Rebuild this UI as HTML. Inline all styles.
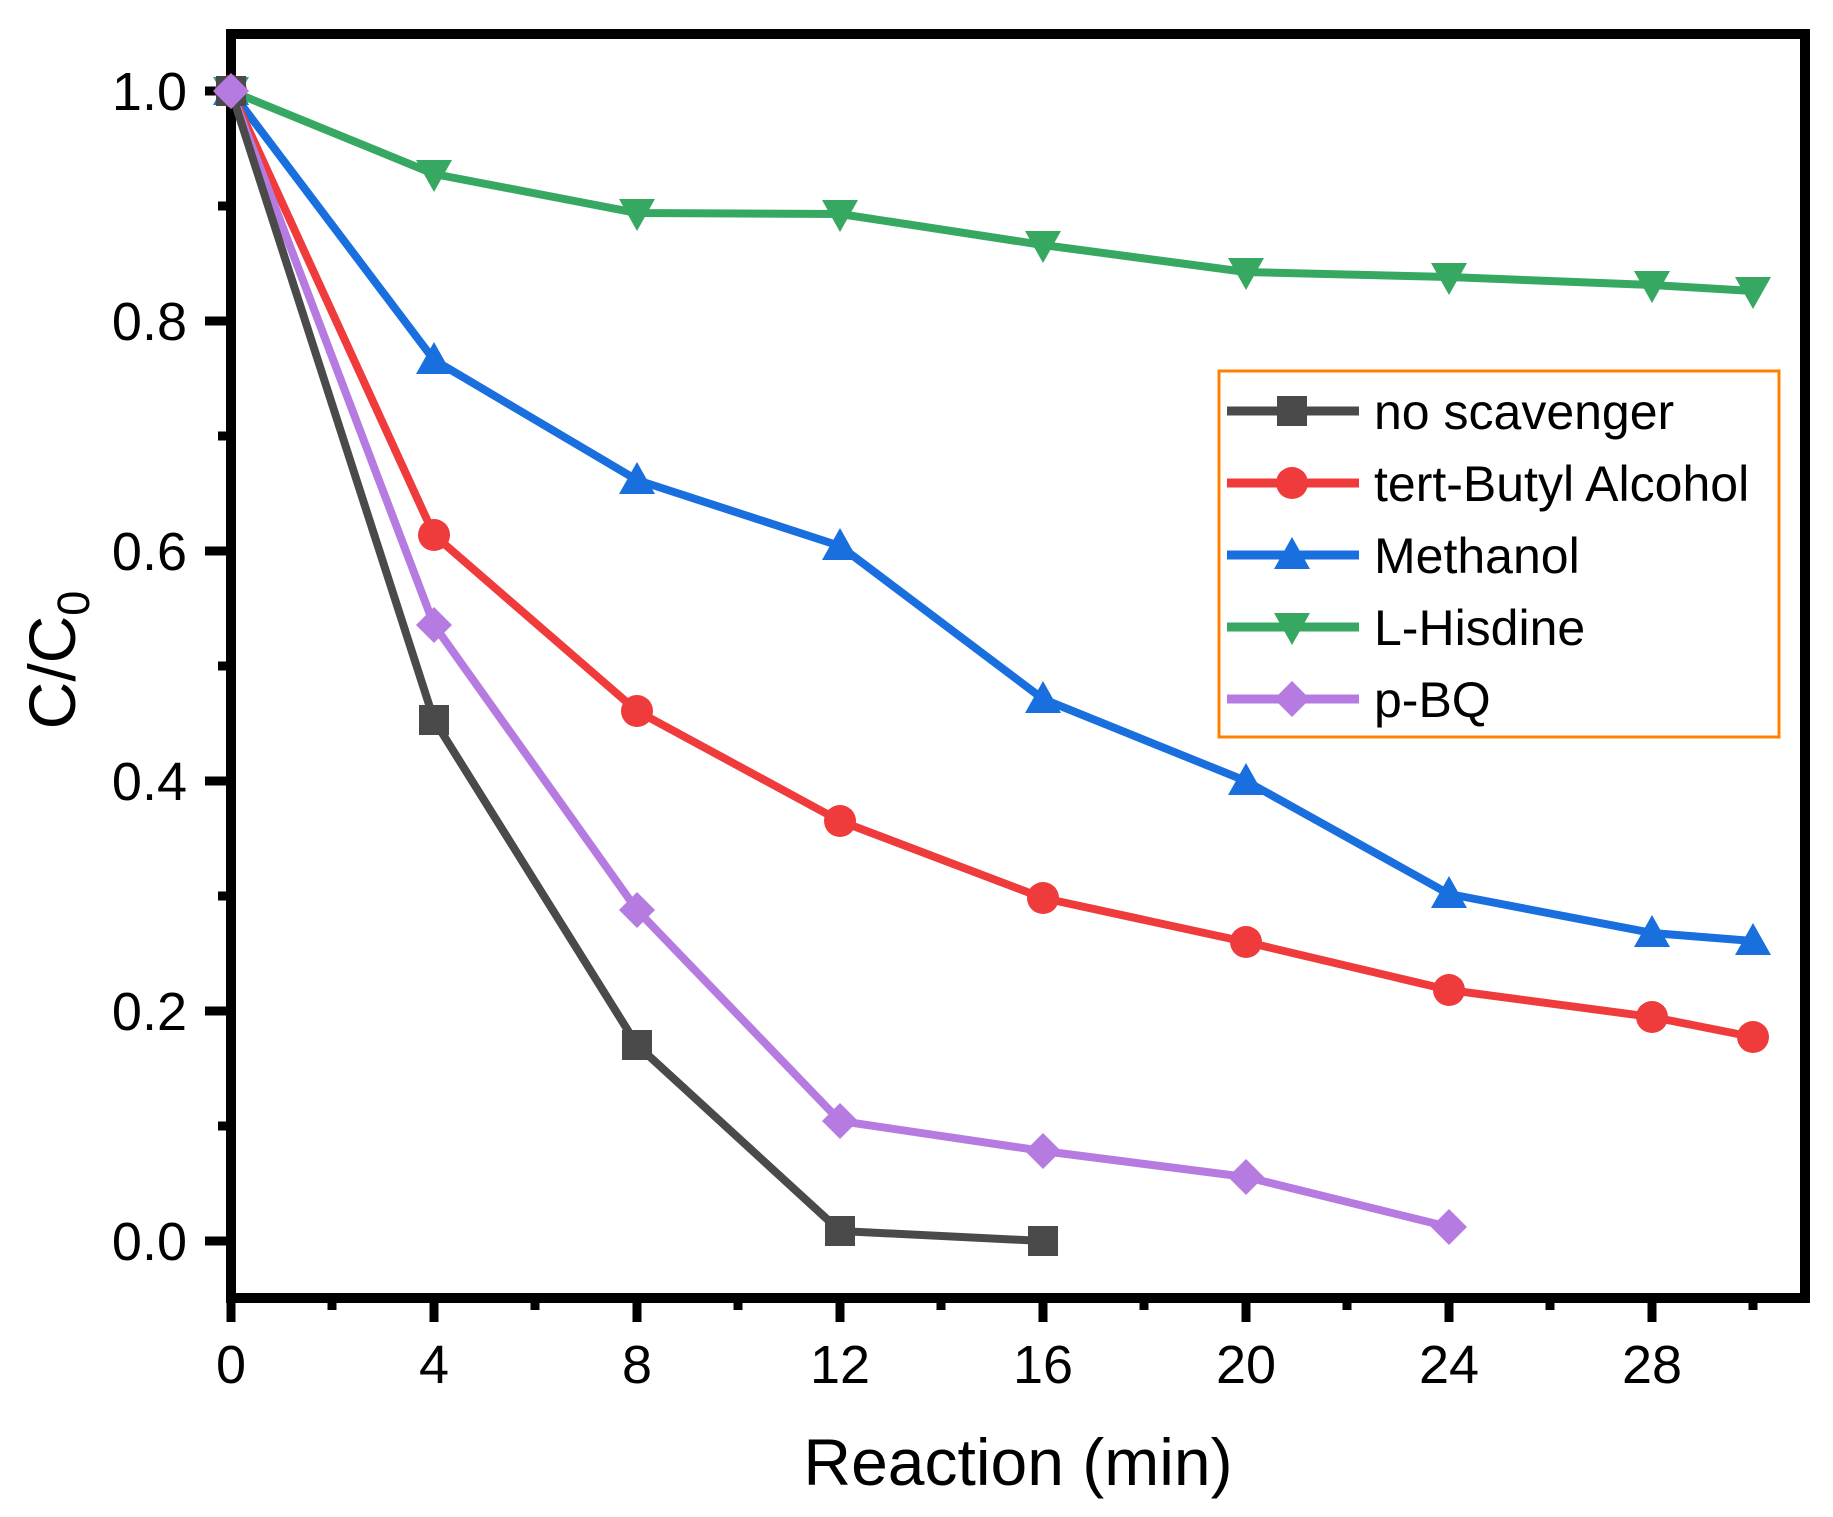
<!DOCTYPE html>
<html><head><style>body{margin:0;background:#fff}svg{display:block}</style></head><body>
<svg width="1833" height="1517" xmlns="http://www.w3.org/2000/svg" font-family="Liberation Sans, Arial, sans-serif">
<rect width="1833" height="1517" fill="#fff"/>
<g stroke="#000" stroke-width="10">
<line x1="231" y1="34" x2="231" y2="1303"/>
<line x1="226" y1="1298" x2="1810" y2="1298"/>
<line x1="226" y1="34" x2="1810" y2="34"/>
<line x1="1805" y1="29" x2="1805" y2="1303"/>
</g>
<g stroke="#000" stroke-width="9">
<line x1="205" y1="1241" x2="231" y2="1241"/><line x1="205" y1="1011" x2="231" y2="1011"/><line x1="205" y1="781" x2="231" y2="781"/><line x1="205" y1="551" x2="231" y2="551"/><line x1="205" y1="321" x2="231" y2="321"/><line x1="205" y1="91" x2="231" y2="91"/>
<line x1="218" y1="1126" x2="231" y2="1126"/><line x1="218" y1="896" x2="231" y2="896"/><line x1="218" y1="666" x2="231" y2="666"/><line x1="218" y1="436" x2="231" y2="436"/><line x1="218" y1="206" x2="231" y2="206"/>
<line x1="231" y1="1298" x2="231" y2="1322"/><line x1="434" y1="1298" x2="434" y2="1322"/><line x1="637" y1="1298" x2="637" y2="1322"/><line x1="840" y1="1298" x2="840" y2="1322"/><line x1="1043" y1="1298" x2="1043" y2="1322"/><line x1="1246" y1="1298" x2="1246" y2="1322"/><line x1="1449" y1="1298" x2="1449" y2="1322"/><line x1="1652" y1="1298" x2="1652" y2="1322"/>
<line x1="332" y1="1298" x2="332" y2="1310"/><line x1="535" y1="1298" x2="535" y2="1310"/><line x1="738" y1="1298" x2="738" y2="1310"/><line x1="941" y1="1298" x2="941" y2="1310"/><line x1="1144" y1="1298" x2="1144" y2="1310"/><line x1="1347" y1="1298" x2="1347" y2="1310"/><line x1="1550" y1="1298" x2="1550" y2="1310"/><line x1="1753" y1="1298" x2="1753" y2="1310"/>
</g>
<g font-size="54" text-anchor="end" fill="#000">
<text x="187" y="1260">0.0</text><text x="187" y="1030">0.2</text><text x="187" y="800">0.4</text><text x="187" y="570">0.6</text><text x="187" y="340">0.8</text><text x="187" y="110">1.0</text>
</g>
<g font-size="54" text-anchor="middle" fill="#000">
<text x="231" y="1383">0</text><text x="434" y="1383">4</text><text x="637" y="1383">8</text><text x="840" y="1383">12</text><text x="1043" y="1383">16</text><text x="1246" y="1383">20</text><text x="1449" y="1383">24</text><text x="1652" y="1383">28</text>
</g>
<text x="1018" y="1485" font-size="66" text-anchor="middle">Reaction (min)</text>
<text transform="translate(75,660) rotate(-90)" font-size="66" text-anchor="middle">C/C<tspan font-size="45" dy="14">0</tspan></text>
<defs>
<rect id="sq" x="-15" y="-15" width="30" height="30"/>
<circle id="ci" r="16"/>
<polygon id="up" points="0,-18 18,14 -18,14"/>
<polygon id="dn" points="0,18 18,-14 -18,-14"/>
<polygon id="di" points="0,-18 18,0 0,18 -18,0"/>
</defs>
<g stroke-width="8" fill="none" stroke-linejoin="round">
<polyline stroke="#37a862" points="231,91 434,174 637,213 840,214 1043,245 1246,272 1449,277 1652,285 1753,291"/>
<polyline stroke="#1a6fdf" points="231,91 434,360 637,480 840,546 1043,699 1246,781 1449,894 1652,933 1753,941"/>
<polyline stroke="#ef3b3b" points="231,91 434,535 637,711 840,821 1043,898 1246,942 1449,990 1652,1017 1753,1037"/>
<polyline stroke="#b57be0" points="231,91 434,625 637,910 840,1121 1043,1151 1246,1177 1449,1227"/>
<polyline stroke="#4a4a4a" points="231,91 434,720 637,1045 840,1231 1043,1241"/>
</g>
<g fill="#37a862"><use href="#dn" x="231" y="91"/><use href="#dn" x="434" y="174"/><use href="#dn" x="637" y="213"/><use href="#dn" x="840" y="214"/><use href="#dn" x="1043" y="245"/><use href="#dn" x="1246" y="272"/><use href="#dn" x="1449" y="277"/><use href="#dn" x="1652" y="285"/><use href="#dn" x="1753" y="291"/></g>
<g fill="#1a6fdf"><use href="#up" x="231" y="91"/><use href="#up" x="434" y="360"/><use href="#up" x="637" y="480"/><use href="#up" x="840" y="546"/><use href="#up" x="1043" y="699"/><use href="#up" x="1246" y="781"/><use href="#up" x="1449" y="894"/><use href="#up" x="1652" y="933"/><use href="#up" x="1753" y="941"/></g>
<g fill="#ef3b3b"><use href="#ci" x="231" y="91"/><use href="#ci" x="434" y="535"/><use href="#ci" x="637" y="711"/><use href="#ci" x="840" y="821"/><use href="#ci" x="1043" y="898"/><use href="#ci" x="1246" y="942"/><use href="#ci" x="1449" y="990"/><use href="#ci" x="1652" y="1017"/><use href="#ci" x="1753" y="1037"/></g>
<g fill="#4a4a4a"><use href="#sq" x="231" y="91"/><use href="#sq" x="434" y="720"/><use href="#sq" x="637" y="1045"/><use href="#sq" x="840" y="1231"/><use href="#sq" x="1043" y="1241"/></g>
<g fill="#b57be0"><use href="#di" x="231" y="91"/><use href="#di" x="434" y="625"/><use href="#di" x="637" y="910"/><use href="#di" x="840" y="1121"/><use href="#di" x="1043" y="1151"/><use href="#di" x="1246" y="1177"/><use href="#di" x="1449" y="1227"/></g>
<rect x="1219" y="371" width="560" height="366" fill="#fff" stroke="#ff8000" stroke-width="3"/>
<g stroke-width="9">
<line x1="1227" y1="411" x2="1359" y2="411" stroke="#4a4a4a"/>
<line x1="1227" y1="483" x2="1359" y2="483" stroke="#ef3b3b"/>
<line x1="1227" y1="555" x2="1359" y2="555" stroke="#1a6fdf"/>
<line x1="1227" y1="627" x2="1359" y2="627" stroke="#37a862"/>
<line x1="1227" y1="699" x2="1359" y2="699" stroke="#b57be0"/>
</g>
<use href="#sq" x="1292" y="411" fill="#4a4a4a"/>
<use href="#ci" x="1292" y="483" fill="#ef3b3b"/>
<use href="#up" x="1292" y="555" fill="#1a6fdf"/>
<use href="#dn" x="1292" y="627" fill="#37a862"/>
<use href="#di" x="1292" y="699" fill="#b57be0"/>
<g font-size="50" fill="#000">
<text x="1374" y="429">no scavenger</text>
<text x="1374" y="501">tert-Butyl Alcohol</text>
<text x="1374" y="573">Methanol</text>
<text x="1374" y="645">L-Hisdine</text>
<text x="1374" y="717">p-BQ</text>
</g>
</svg>
</body></html>
